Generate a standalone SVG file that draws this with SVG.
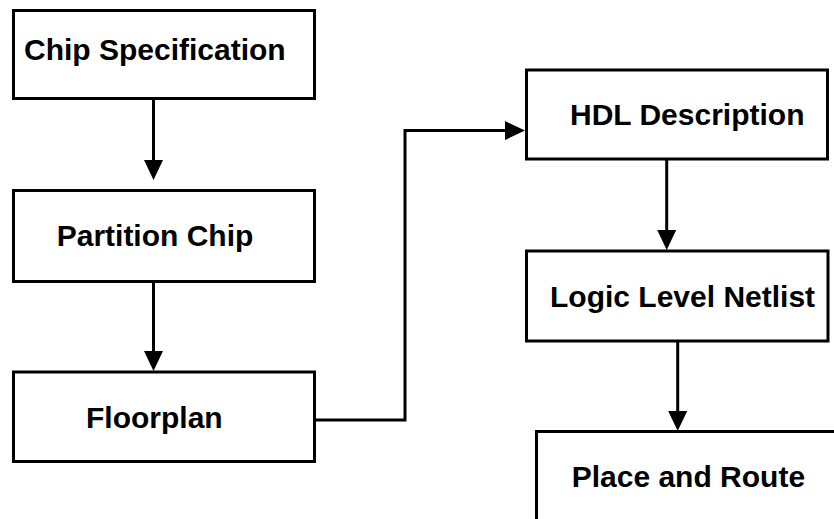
<svg xmlns="http://www.w3.org/2000/svg" width="834" height="519" viewBox="0 0 834 519">
<style>
.box{fill:#fff;stroke:#000;stroke-width:3}
.lbl{font-family:"Liberation Sans",Arial,sans-serif;font-weight:bold;font-size:30px;fill:#000}
.con{fill:none;stroke:#000;stroke-width:3;marker-end:url(#ah)}
</style>
<defs>
<marker id="ah" markerUnits="userSpaceOnUse" markerWidth="20" markerHeight="19" refX="2" refY="9.5" orient="auto">
<path d="M0,0 L20,9.5 L0,19 z" fill="#000"/>
</marker>
</defs>
<rect width="834" height="519" fill="#fff"/>
<g id="chip-spec"><rect class="box" x="13.5" y="10.5" width="301" height="88"/><text class="lbl" x="24" y="60">Chip Specification</text></g>
<g id="partition-chip"><rect class="box" x="13.5" y="190.5" width="301" height="91"/><text class="lbl" x="56.7" y="246">Partition Chip</text></g>
<g id="floorplan"><rect class="box" x="13.5" y="372" width="301" height="89.5"/><text class="lbl" x="86" y="428.3">Floorplan</text></g>
<g id="hdl"><rect class="box" x="526.5" y="70" width="301" height="89"/><text class="lbl" x="570" y="125">HDL Description</text></g>
<g id="netlist"><rect class="box" x="526.5" y="251" width="301.5" height="90"/><text class="lbl" x="550" y="306.7">Logic Level Netlist</text></g>
<g id="place-route"><rect class="box" x="536.5" y="431.5" width="320" height="120"/><text class="lbl" x="571.7" y="486.7">Place and Route</text></g>
<g id="connectors">
<path class="con" d="M153.5,99 V162"/>
<path class="con" d="M153.5,282 V353"/>
<path class="con" d="M315,420 H405 V130.5 H507"/>
<path class="con" d="M666.7,159 V232"/>
<path class="con" d="M677.7,341 V413"/>
</g>
</svg>
